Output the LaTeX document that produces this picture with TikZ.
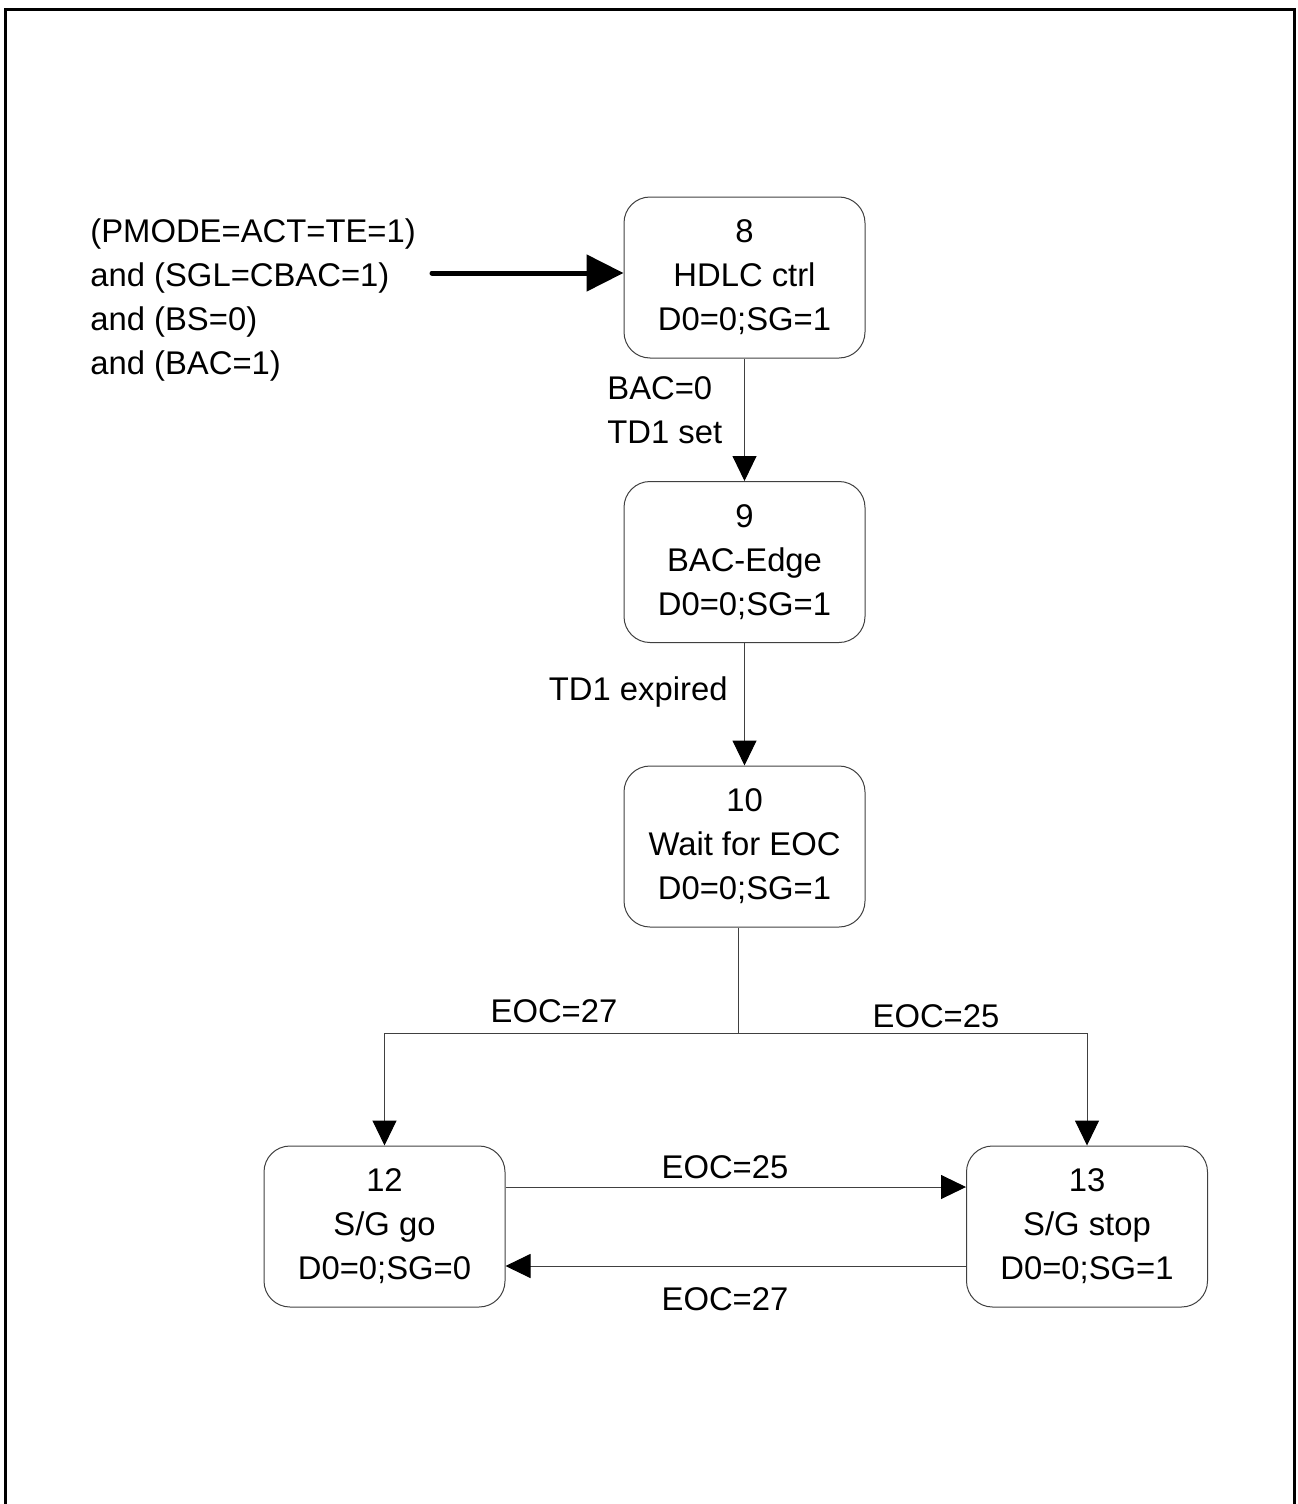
\documentclass[tikz,border=0pt]{standalone}
\usepackage{fontspec}
\setmainfont{Liberation Sans}
\usetikzlibrary{arrows.meta}
\begin{document}
\begin{tikzpicture}[x=0.5pt,y=-0.5pt,
  every node/.style={font=\fontsize{16.4}{22}\selectfont},
  statebox/.style={draw=black!75, line width=0.5pt, rounded corners=13pt,
    minimum width=120.5pt, minimum height=80.5pt, inner sep=0pt, align=center},
  lbl/.style={inner sep=0pt, align=left},
  arr/.style={draw=black!75, line width=0.5pt, -{Triangle[length=12.5pt,width=12pt,color=black,fill=black]}},
  plain/.style={draw=black!75, line width=0.5pt},
  thickarr/.style={draw=black, line width=2.5pt, line cap=round, -{Triangle[length=18.5pt,width=18pt]}}
]
\useasboundingbox (0,0) rectangle (1297,1504);
\draw[line width=1.5pt] (5,1504) -- (5,10) -- (1294,10) -- (1294,1504);

\node[statebox] (s8)  at (744.5,277.5)  {8\\HDLC ctrl\\D0=0;SG=1};
\node[statebox] (s9)  at (744.5,562)    {9\\BAC-Edge\\D0=0;SG=1};
\node[statebox] (s10) at (744.5,846.5)  {10\\Wait for EOC\\D0=0;SG=1};
\node[statebox] (s12) at (384.5,1226.5) {12\\S/G go\\D0=0;SG=0};
\node[statebox] (s13) at (1087,1226.5)  {13\\S/G stop\\D0=0;SG=1};

\node[lbl, anchor=west] (cond) at (90,300) {(PMODE=ACT=TE=1)\\and (SGL=CBAC=1)\\and (BS=0)\\and (BAC=1)};
\coordinate (start) at (432,273);
\draw[thickarr] (start) -- (s8.west |- start);

\draw[arr] (s8.south) -- (s9.north);
\node[lbl, anchor=west] (l89) at (607,410) {BAC=0\\TD1 set};

\draw[arr] (s9.south) -- (s10.north);
\node[lbl, anchor=east] (l910) at (728,692) {TD1 expired};

\coordinate (split) at (738,1033);
\draw[plain] (s10.south -| split) -- (split);
\draw[arr] (split) -| (s12.north);
\draw[arr] (split) -| (s13.north);
\node[lbl] (l27a) at (554,1011) {EOC=27};
\node[lbl] (l25a) at (936,1016) {EOC=25};

\coordinate (y25) at (735,1187);
\coordinate (y27) at (735,1266);
\draw[arr] (s12.east |- y25) -- (s13.west |- y25);
\draw[arr] (s13.west |- y27) -- (s12.east |- y27);
\node[lbl] (l25b) at (725,1167) {EOC=25};
\node[lbl] (l27b) at (725,1299) {EOC=27};
\end{tikzpicture}
\end{document}
